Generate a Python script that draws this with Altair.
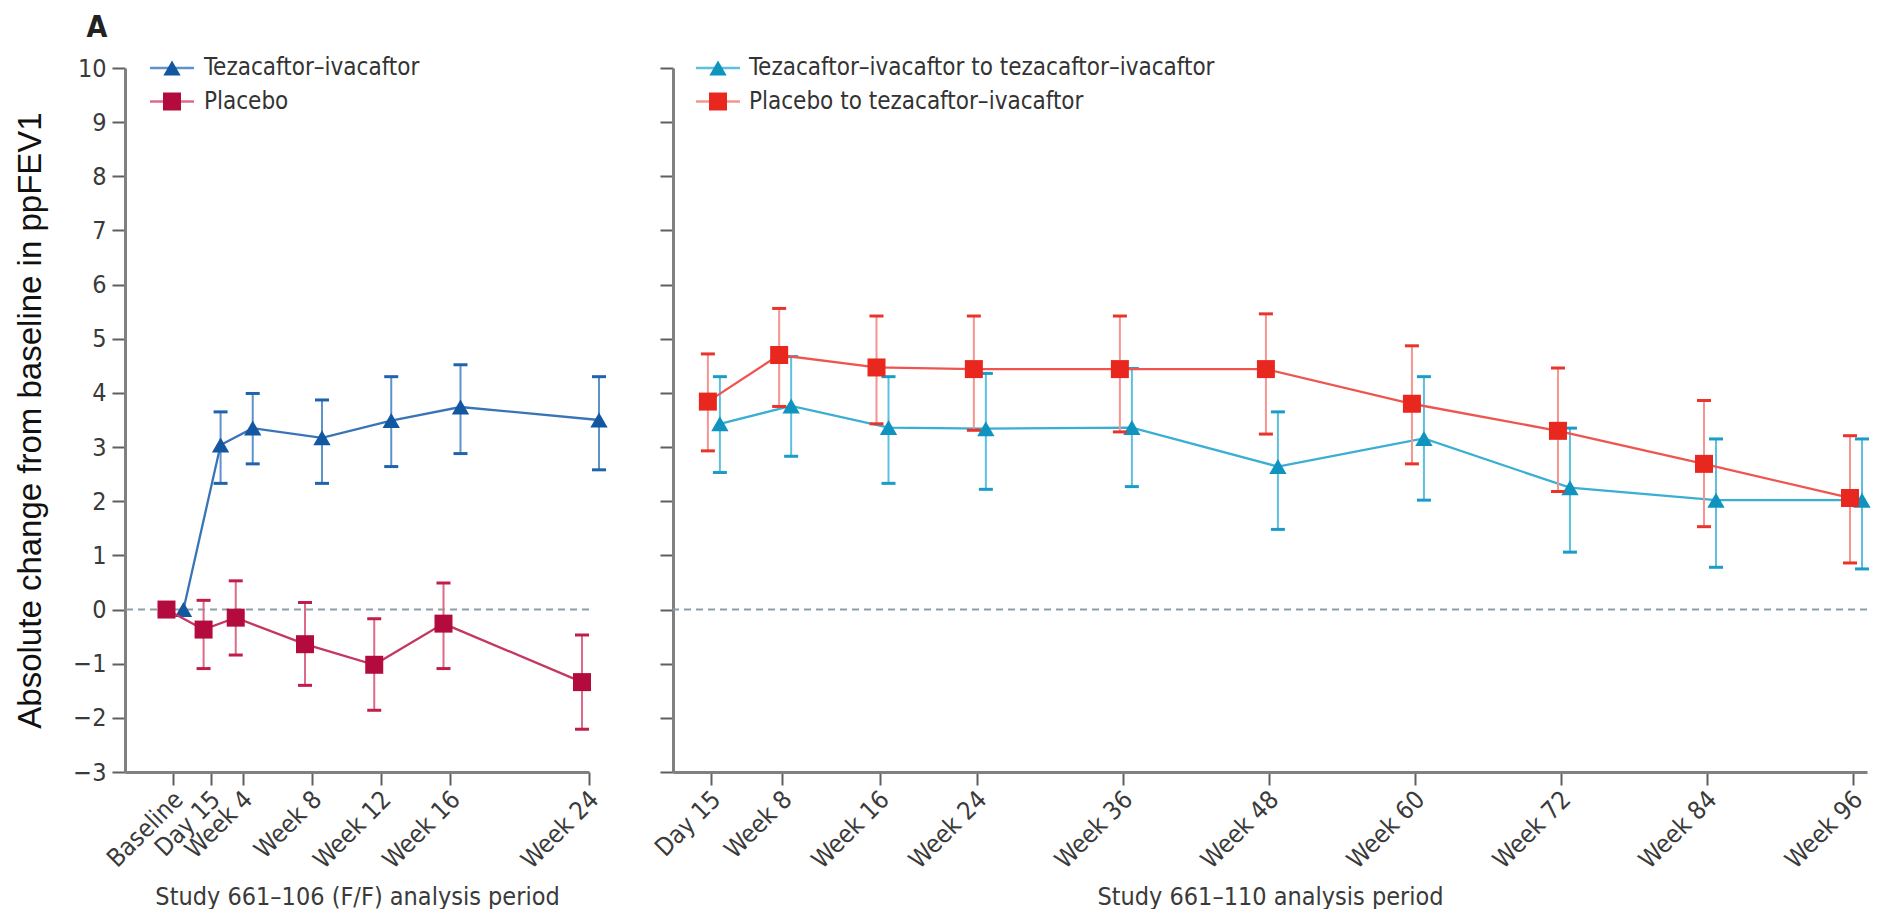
import altair as alt
import pandas as pd

# ---------------- data ----------------
DAY15 = 15 / 7

left_weeks = [0, DAY15, 4, 8, 12, 16, 24]
left_labels = ["Baseline", "Day 15", "Week 4", "Week 8", "Week 12", "Week 16", "Week 24"]

ti_mean = [0, 3.04, 3.35, 3.17, 3.49, 3.74, 3.50]
ti_hi = [None, 3.65, 3.99, 3.87, 4.30, 4.52, 4.30]
ti_lo = [None, 2.33, 2.69, 2.33, 2.64, 2.88, 2.58]

pl_mean = [0, -0.37, -0.15, -0.64, -1.02, -0.26, -1.34]
pl_hi = [None, 0.17, 0.53, 0.13, -0.17, 0.49, -0.47]
pl_lo = [None, -1.09, -0.84, -1.40, -1.86, -1.09, -2.21]

right_weeks = [DAY15, 8, 16, 24, 36, 48, 60, 72, 84, 96]
right_labels = ["Day 15", "Week 8", "Week 16", "Week 24", "Week 36", "Week 48",
                "Week 60", "Week 72", "Week 84", "Week 96"]

titi_mean = [3.43, 3.76, 3.36, 3.34, 3.36, 2.64, 3.16, 2.25, 2.02, 2.02]
titi_hi = [4.30, 4.67, 4.30, 4.36, 4.45, 3.65, 4.30, 3.35, 3.15, 3.15]
titi_lo = [2.53, 2.83, 2.33, 2.22, 2.27, 1.48, 2.02, 1.06, 0.78, 0.75]

plti_mean = [3.84, 4.70, 4.47, 4.44, 4.44, 4.44, 3.80, 3.30, 2.69, 2.06]
plti_hi = [4.72, 5.56, 5.42, 5.42, 5.42, 5.46, 4.87, 4.46, 3.86, 3.21]
plti_lo = [2.93, 3.75, 3.43, 3.31, 3.28, 3.24, 2.69, 2.18, 1.53, 0.86]

left_series = ["Tezacaftor–ivacaftor", "Placebo"]
right_series = ["Tezacaftor–ivacaftor to tezacaftor–ivacaftor", "Placebo to tezacaftor–ivacaftor"]

y_title = "Absolute change from baseline in ppFEV1"
left_xtitle = "Study 661–106 (F/F) analysis period"
right_xtitle = "Study 661–110 analysis period"
y_ticks = list(range(-3, 11))

# ---------------- style ----------------
NARROW = "Liberation Sans Narrow, DejaVu Sans Condensed, Open Sans, sans-serif"
TXT = "#3a3a3a"
FS = 25

LW, RW, H = 464, 1194, 704


def label_expr(weeks, labels):
    parts = [f"abs(datum.value - {w}) < 0.01 ? '{l}'" for w, l in zip(weeks, labels)]
    return " : ".join(parts) + " : ''"


def make_x(weeks, labels, domain, title):
    return alt.X(
        "week:Q",
        scale=alt.Scale(domain=domain, nice=False, zero=False),
        axis=alt.Axis(
            values=weeks, labelExpr=label_expr(weeks, labels), title=title,
            labelAngle=-45, labelAlign="right", labelBaseline="middle",
            labelPadding=10, labelOffset=5, labelFlush=False, labelOverlap=False,
            labelBound=False, titleY=132, titleBaseline="alphabetic",
        ),
    )


def make_y(show_labels):
    if show_labels:
        ax = alt.Axis(values=y_ticks, title=y_title, titleFont="Liberation Sans, Arial, sans-serif",
                      titleFontSize=33, titleFontWeight="normal", titleColor="#111111",
                      titleX=-78, titleY=H / 2, labelPadding=6, format="d")
    else:
        ax = alt.Axis(values=y_ticks, title=None, labels=False)
    return alt.Y("mean:Q", scale=alt.Scale(domain=[-3, 10], nice=False, zero=False), axis=ax)


def series_layers(weeks, mean, lo, hi, X, Y, off, shape, c_line, c_mark, c_err, c_cap, size):
    df = pd.DataFrame({"week": weeks, "mean": mean, "lo": lo, "hi": hi})
    base = alt.Chart(df)
    err = base.mark_rule(color=c_err, strokeWidth=2, xOffset=off).encode(
        x=X, y=alt.Y("lo:Q"), y2="hi:Q")
    cap_hi = base.mark_rule(color=c_cap, strokeWidth=3, xOffset=off - 7, x2Offset=off + 7).encode(
        x=X, x2="week:Q", y=alt.Y("hi:Q"))
    cap_lo = base.mark_rule(color=c_cap, strokeWidth=3, xOffset=off - 7, x2Offset=off + 7).encode(
        x=X, x2="week:Q", y=alt.Y("lo:Q"))
    line = base.mark_line(color=c_line, strokeWidth=2.3, xOffset=off).encode(x=X, y=Y)
    pts = base.mark_point(shape=shape, filled=True, size=size, color=c_mark, opacity=1,
                          xOffset=off).encode(x=X, y=Y)
    return [err, cap_hi, cap_lo, line, pts]


def legend_layers(names, line_colors, mark_colors, shapes, sizes, x0, x1, xm, xt, y0, dy):
    out = []
    for i, name in enumerate(names):
        d = alt.Chart(pd.DataFrame({"label": [name]}))
        yy = y0 + i * dy
        out.append(d.mark_rule(color=line_colors[i], strokeWidth=2.3).encode(
            x=alt.value(x0), x2=alt.value(x1), y=alt.value(yy)))
        out.append(d.mark_point(shape=shapes[i], filled=True, size=sizes[i], opacity=1,
                                color=mark_colors[i]).encode(x=alt.value(xm), y=alt.value(yy)))
        out.append(d.mark_text(align="left", baseline="middle", font=NARROW, fontSize=24,
                               color="#333333").encode(x=alt.value(xt), y=alt.value(yy), text="label:N"))
    return out


zero_df = pd.DataFrame({"v": [0]})


def zero_line():
    return alt.Chart(zero_df).mark_rule(color="#8c9ea8", strokeWidth=2, strokeDash=[7, 5]).encode(
        y=alt.Y("v:Q"))


# ---------------- left panel ----------------
XL = make_x(left_weeks, left_labels, [-2.8, 24], left_xtitle)
YL = make_y(True)

left_layers = [zero_line()]
left_layers += series_layers(left_weeks, ti_mean, ti_lo, ti_hi, XL, YL, 10, "triangle-up",
                             "#3a74b8", "#1457a1", "#5d92cc", "#2062ab", 300)
left_layers += series_layers(left_weeks, pl_mean, pl_lo, pl_hi, XL, YL, -7, "square",
                             "#c4375f", "#b30b3d", "#db6b89", "#c11d4a", 324)
left_layers += legend_layers(left_series, ["#5d92cc", "#db6b89"], ["#1457a1", "#b30b3d"],
                             ["triangle-up", "square"], [300, 324], 25, 69, 47, 79, 0, 33.5)
left_layers.append(
    alt.Chart(pd.DataFrame({"t": ["A"]})).mark_text(
        align="center", baseline="alphabetic", font=NARROW, fontSize=30, fontWeight="bold",
        color="#222222").encode(x=alt.value(-28), y=alt.value(-31), text="t:N"))

left = alt.layer(*left_layers).properties(width=LW, height=H)

# ---------------- right panel ----------------
XR = make_x(right_weeks, right_labels, [-0.97, 97.15], right_xtitle)
YR = make_y(False)

right_layers = [zero_line()]
right_layers += series_layers(right_weeks, titi_mean, titi_lo, titi_hi, XR, YR, 9, "triangle-up",
                              "#3aaed3", "#0f94bf", "#5cc0de", "#1a9cc6", 300)
right_layers += series_layers(right_weeks, plti_mean, plti_lo, plti_hi, XR, YR, -3, "square",
                              "#ef5550", "#e8271f", "#f59490", "#e8342b", 324)
right_layers += legend_layers(right_series, ["#5cc0de", "#f59490"], ["#0f94bf", "#e8271f"],
                              ["triangle-up", "square"], [300, 324], 23, 67, 45, 76, 0, 33.5)

right = alt.layer(*right_layers).properties(width=RW, height=H)

chart = (
    alt.hconcat(left, right, spacing=84, bounds="flush")
    .properties(padding={"left": 6, "top": 5, "right": 0, "bottom": 0})
    .configure_view(stroke=None)
    .configure_axis(
        grid=False, domainColor="#808080", domainWidth=3, tickColor="#5f5f5f", tickWidth=2,
        tickSize=13, labelFont=NARROW, labelFontSize=FS, labelColor=TXT,
        titleFont=NARROW, titleFontSize=FS, titleFontWeight="normal", titleColor=TXT,
    )
)

chart.save("out.html", embed_options={"renderer": "svg", "actions": False})
